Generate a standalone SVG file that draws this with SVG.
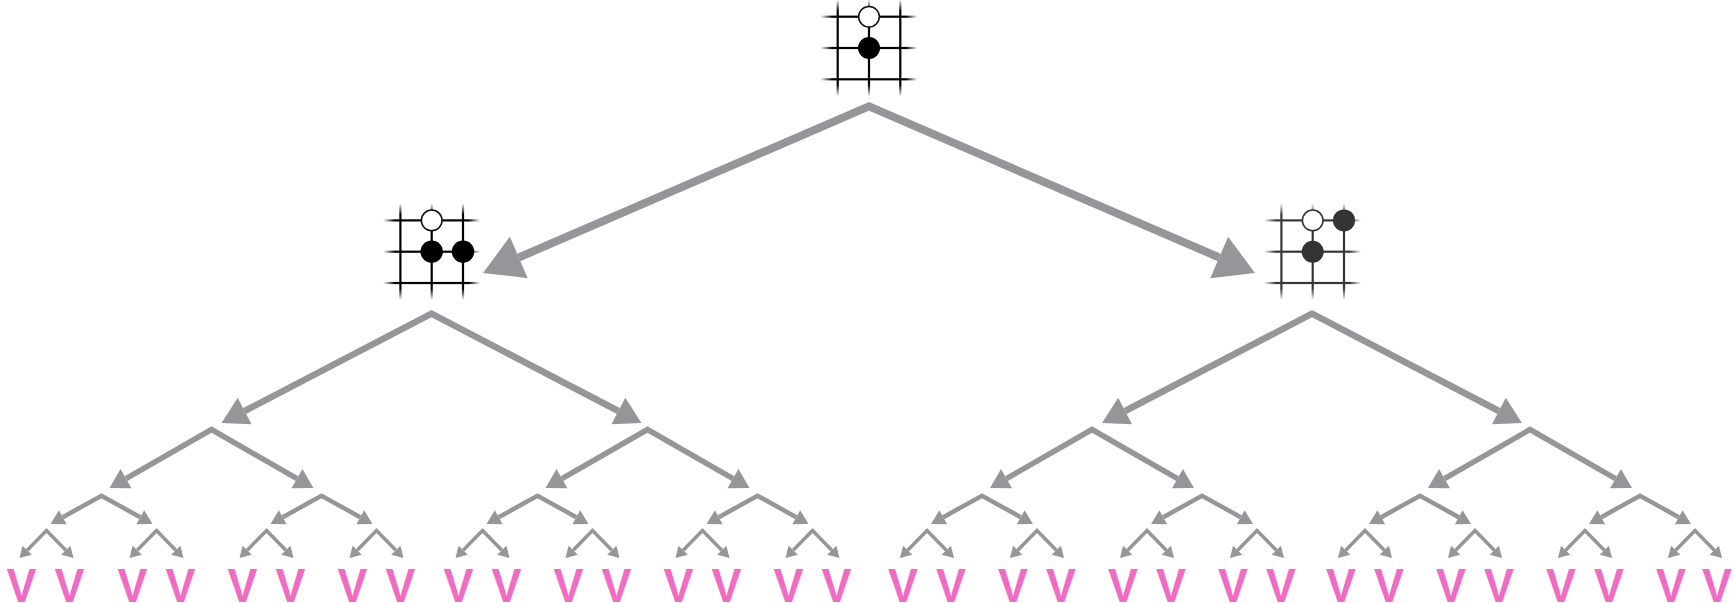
<svg xmlns="http://www.w3.org/2000/svg" xmlns:xlink="http://www.w3.org/1999/xlink" width="1735" height="603" viewBox="0 0 1735 603">
  <style>
    .edge { fill: none; stroke: #96969a; stroke-linejoin: miter; stroke-miterlimit: 10; }
    .e1 { stroke-width: 8; marker-start: url(#h1); marker-end: url(#h1); }
    .e2 { stroke-width: 6.5; marker-start: url(#h2); marker-end: url(#h2); }
    .e3 { stroke-width: 5.5; marker-start: url(#h3); marker-end: url(#h3); }
    .e4 { stroke-width: 4.5; marker-start: url(#h4); marker-end: url(#h4); }
    .e5 { stroke-width: 3.5; marker-start: url(#h5); marker-end: url(#h5); }
    .head { fill: #96969a; }
    .white { fill: #ffffff; stroke: #111111; stroke-width: 1.5; }
    .black { fill: #000000; }
    .dark { fill: #333333; }
    .leaf { font-family: "Liberation Sans", Arial, sans-serif; font-weight: bold; font-size: 49px; fill: #f06cc4; text-anchor: middle; }
  </style>
  <defs>
    <!-- arrowheads, one size per tree depth -->
    <marker id="h1" markerUnits="userSpaceOnUse" orient="auto-start-reverse" viewBox="-1 -25 42 50" markerWidth="42" markerHeight="50" refX="0" refY="0" overflow="visible"><path class="head" d="M0,-22.5L39,0L0,22.5Z"/></marker>
    <marker id="h2" markerUnits="userSpaceOnUse" orient="auto-start-reverse" viewBox="-1 -17 30 34" markerWidth="30" markerHeight="34" refX="0" refY="0" overflow="visible"><path class="head" d="M0,-15L26,0L0,15Z"/></marker>
    <marker id="h3" markerUnits="userSpaceOnUse" orient="auto-start-reverse" viewBox="-1 -13 22 26" markerWidth="22" markerHeight="26" refX="0" refY="0" overflow="visible"><path class="head" d="M0,-11L19,0L0,11Z"/></marker>
    <marker id="h4" markerUnits="userSpaceOnUse" orient="auto-start-reverse" viewBox="-1 -10 17 20" markerWidth="17" markerHeight="20" refX="0" refY="0" overflow="visible"><path class="head" d="M0,-8L14,0L0,8Z"/></marker>
    <marker id="h5" markerUnits="userSpaceOnUse" orient="auto-start-reverse" viewBox="-1 -8 14 16" markerWidth="14" markerHeight="16" refX="0" refY="0" overflow="visible"><path class="head" d="M0,-6.5L11,0L0,6.5Z"/></marker>

    <!-- grid lines fade out at their ends -->
    <linearGradient id="hfade" x1="0" y1="0" x2="1" y2="0">
      <stop offset="0" stop-color="#000" stop-opacity="0"/>
      <stop offset="0.12" stop-color="#000" stop-opacity="1"/>
      <stop offset="0.88" stop-color="#000" stop-opacity="1"/>
      <stop offset="1" stop-color="#000" stop-opacity="0"/>
    </linearGradient>
    <linearGradient id="vfade" x1="0" y1="0" x2="0" y2="1">
      <stop offset="0" stop-color="#000" stop-opacity="0"/>
      <stop offset="0.12" stop-color="#000" stop-opacity="1"/>
      <stop offset="0.88" stop-color="#000" stop-opacity="1"/>
      <stop offset="1" stop-color="#000" stop-opacity="0"/>
    </linearGradient>

    <!-- 3x3 board fragment centred on the origin -->
    <g id="grid">
      <rect x="-48.5" y="-32.4" width="97" height="2.2" fill="url(#hfade)"/>
      <rect x="-48.5" y="-1.1" width="97" height="2.2" fill="url(#hfade)"/>
      <rect x="-48.5" y="30.2" width="97" height="2.2" fill="url(#hfade)"/>
      <rect x="-32.4" y="-48.5" width="2.2" height="97" fill="url(#vfade)"/>
      <rect x="-1.1" y="-48.5" width="2.2" height="97" fill="url(#vfade)"/>
      <rect x="30.2" y="-48.5" width="2.2" height="97" fill="url(#vfade)"/>
    </g>
  </defs>

  <rect width="1735" height="603" fill="#ffffff"/>

  <!-- search tree edges -->
  <g id="connectors">
    <path class="edge e1" d="M518.8,257.5L869,106.4L1219.2,257.5"/>

    <path class="edge e2" d="M244.6,411L431.5,313.7L618.4,411"/>
    <path class="edge e2" d="M1125.1,411L1312,313.7L1498.9,411"/>

    <path class="edge e3" d="M126,478.6L211.5,429.5L297,478.6"/>
    <path class="edge e3" d="M562,478.6L647.5,429.5L733,478.6"/>
    <path class="edge e3" d="M1006.5,478.6L1092,429.5L1177.5,478.6"/>
    <path class="edge e3" d="M1444.5,478.6L1530,429.5L1615.5,478.6"/>

    <path class="edge e4" d="M62.75,517.2L101.5,495.7L140.25,517.2"/>
    <path class="edge e4" d="M282.75,517.2L321.5,495.7L360.25,517.2"/>
    <path class="edge e4" d="M498.75,517.2L537.5,495.7L576.25,517.2"/>
    <path class="edge e4" d="M718.75,517.2L757.5,495.7L796.25,517.2"/>
    <path class="edge e4" d="M943.25,517.2L982,495.7L1020.75,517.2"/>
    <path class="edge e4" d="M1163.25,517.2L1202,495.7L1240.75,517.2"/>
    <path class="edge e4" d="M1381.25,517.2L1420,495.7L1458.75,517.2"/>
    <path class="edge e4" d="M1601.25,517.2L1640,495.7L1678.75,517.2"/>

    <path class="edge e5" d="M27.2,550.2L46.5,530.6L65.8,550.2"/>
    <path class="edge e5" d="M137.2,550.2L156.5,530.6L175.8,550.2"/>
    <path class="edge e5" d="M247.2,550.2L266.5,530.6L285.8,550.2"/>
    <path class="edge e5" d="M357.2,550.2L376.5,530.6L395.8,550.2"/>
    <path class="edge e5" d="M463.2,550.2L482.5,530.6L501.8,550.2"/>
    <path class="edge e5" d="M573.2,550.2L592.5,530.6L611.8,550.2"/>
    <path class="edge e5" d="M683.2,550.2L702.5,530.6L721.8,550.2"/>
    <path class="edge e5" d="M793.2,550.2L812.5,530.6L831.8,550.2"/>
    <path class="edge e5" d="M907.7,550.2L927,530.6L946.3,550.2"/>
    <path class="edge e5" d="M1017.7,550.2L1037,530.6L1056.3,550.2"/>
    <path class="edge e5" d="M1127.7,550.2L1147,530.6L1166.3,550.2"/>
    <path class="edge e5" d="M1237.7,550.2L1257,530.6L1276.3,550.2"/>
    <path class="edge e5" d="M1345.7,550.2L1365,530.6L1384.3,550.2"/>
    <path class="edge e5" d="M1455.7,550.2L1475,530.6L1494.3,550.2"/>
    <path class="edge e5" d="M1565.7,550.2L1585,530.6L1604.3,550.2"/>
    <path class="edge e5" d="M1675.7,550.2L1695,530.6L1714.3,550.2"/>
  </g>

  <!-- root position -->
  <g id="board-root">
    <use xlink:href="#grid" href="#grid" x="869" y="48"/>
    <circle class="white" cx="869" cy="16.7" r="10.3"/>
    <circle class="black" cx="869" cy="48" r="11"/>
  </g>

  <!-- black extends to the right -->
  <g id="board-left">
    <use xlink:href="#grid" href="#grid" x="431.7" y="251.7"/>
    <circle class="white" cx="431.7" cy="220.4" r="10.3"/>
    <circle class="black" cx="431.7" cy="251.7" r="11.2"/>
    <circle class="black" cx="463" cy="251.7" r="11.2"/>
  </g>

  <!-- black plays on the upper right -->
  <g id="board-right">
    <use xlink:href="#grid" href="#grid" x="1312.7" y="251.7" opacity="0.78"/>
    <circle class="white" cx="1312.7" cy="220.4" r="10.3" style="stroke:#333"/>
    <circle class="dark" cx="1344" cy="220.4" r="11"/>
    <circle class="dark" cx="1312.7" cy="251.7" r="11"/>
  </g>

  <!-- leaf evaluations -->
  <g id="leaves">
    <text id="leaf-01" class="leaf" x="21.5" y="602" textLength="30" lengthAdjust="spacingAndGlyphs">V</text>
    <text id="leaf-02" class="leaf" x="69.5" y="602" textLength="30" lengthAdjust="spacingAndGlyphs">V</text>
    <text id="leaf-03" class="leaf" x="132.5" y="602" textLength="30" lengthAdjust="spacingAndGlyphs">V</text>
    <text id="leaf-04" class="leaf" x="180.5" y="602" textLength="30" lengthAdjust="spacingAndGlyphs">V</text>
    <text id="leaf-05" class="leaf" x="242.5" y="602" textLength="30" lengthAdjust="spacingAndGlyphs">V</text>
    <text id="leaf-06" class="leaf" x="290.5" y="602" textLength="30" lengthAdjust="spacingAndGlyphs">V</text>
    <text id="leaf-07" class="leaf" x="352.5" y="602" textLength="30" lengthAdjust="spacingAndGlyphs">V</text>
    <text id="leaf-08" class="leaf" x="400.5" y="602" textLength="30" lengthAdjust="spacingAndGlyphs">V</text>
    <text id="leaf-09" class="leaf" x="458.5" y="602" textLength="30" lengthAdjust="spacingAndGlyphs">V</text>
    <text id="leaf-10" class="leaf" x="506.5" y="602" textLength="30" lengthAdjust="spacingAndGlyphs">V</text>
    <text id="leaf-11" class="leaf" x="568.5" y="602" textLength="30" lengthAdjust="spacingAndGlyphs">V</text>
    <text id="leaf-12" class="leaf" x="616.5" y="602" textLength="30" lengthAdjust="spacingAndGlyphs">V</text>
    <text id="leaf-13" class="leaf" x="678.5" y="602" textLength="30" lengthAdjust="spacingAndGlyphs">V</text>
    <text id="leaf-14" class="leaf" x="726.5" y="602" textLength="30" lengthAdjust="spacingAndGlyphs">V</text>
    <text id="leaf-15" class="leaf" x="788.5" y="602" textLength="30" lengthAdjust="spacingAndGlyphs">V</text>
    <text id="leaf-16" class="leaf" x="836.5" y="602" textLength="30" lengthAdjust="spacingAndGlyphs">V</text>
    <text id="leaf-17" class="leaf" x="903" y="602" textLength="30" lengthAdjust="spacingAndGlyphs">V</text>
    <text id="leaf-18" class="leaf" x="951" y="602" textLength="30" lengthAdjust="spacingAndGlyphs">V</text>
    <text id="leaf-19" class="leaf" x="1013" y="602" textLength="30" lengthAdjust="spacingAndGlyphs">V</text>
    <text id="leaf-20" class="leaf" x="1061" y="602" textLength="30" lengthAdjust="spacingAndGlyphs">V</text>
    <text id="leaf-21" class="leaf" x="1123" y="602" textLength="30" lengthAdjust="spacingAndGlyphs">V</text>
    <text id="leaf-22" class="leaf" x="1171" y="602" textLength="30" lengthAdjust="spacingAndGlyphs">V</text>
    <text id="leaf-23" class="leaf" x="1233" y="602" textLength="30" lengthAdjust="spacingAndGlyphs">V</text>
    <text id="leaf-24" class="leaf" x="1281" y="602" textLength="30" lengthAdjust="spacingAndGlyphs">V</text>
    <text id="leaf-25" class="leaf" x="1341" y="602" textLength="30" lengthAdjust="spacingAndGlyphs">V</text>
    <text id="leaf-26" class="leaf" x="1389" y="602" textLength="30" lengthAdjust="spacingAndGlyphs">V</text>
    <text id="leaf-27" class="leaf" x="1451" y="602" textLength="30" lengthAdjust="spacingAndGlyphs">V</text>
    <text id="leaf-28" class="leaf" x="1499" y="602" textLength="30" lengthAdjust="spacingAndGlyphs">V</text>
    <text id="leaf-29" class="leaf" x="1561" y="602" textLength="30" lengthAdjust="spacingAndGlyphs">V</text>
    <text id="leaf-30" class="leaf" x="1609" y="602" textLength="30" lengthAdjust="spacingAndGlyphs">V</text>
    <text id="leaf-31" class="leaf" x="1671" y="602" textLength="30" lengthAdjust="spacingAndGlyphs">V</text>
    <text id="leaf-32" class="leaf" x="1717" y="602" textLength="30" lengthAdjust="spacingAndGlyphs">V</text>
  </g>
</svg>
